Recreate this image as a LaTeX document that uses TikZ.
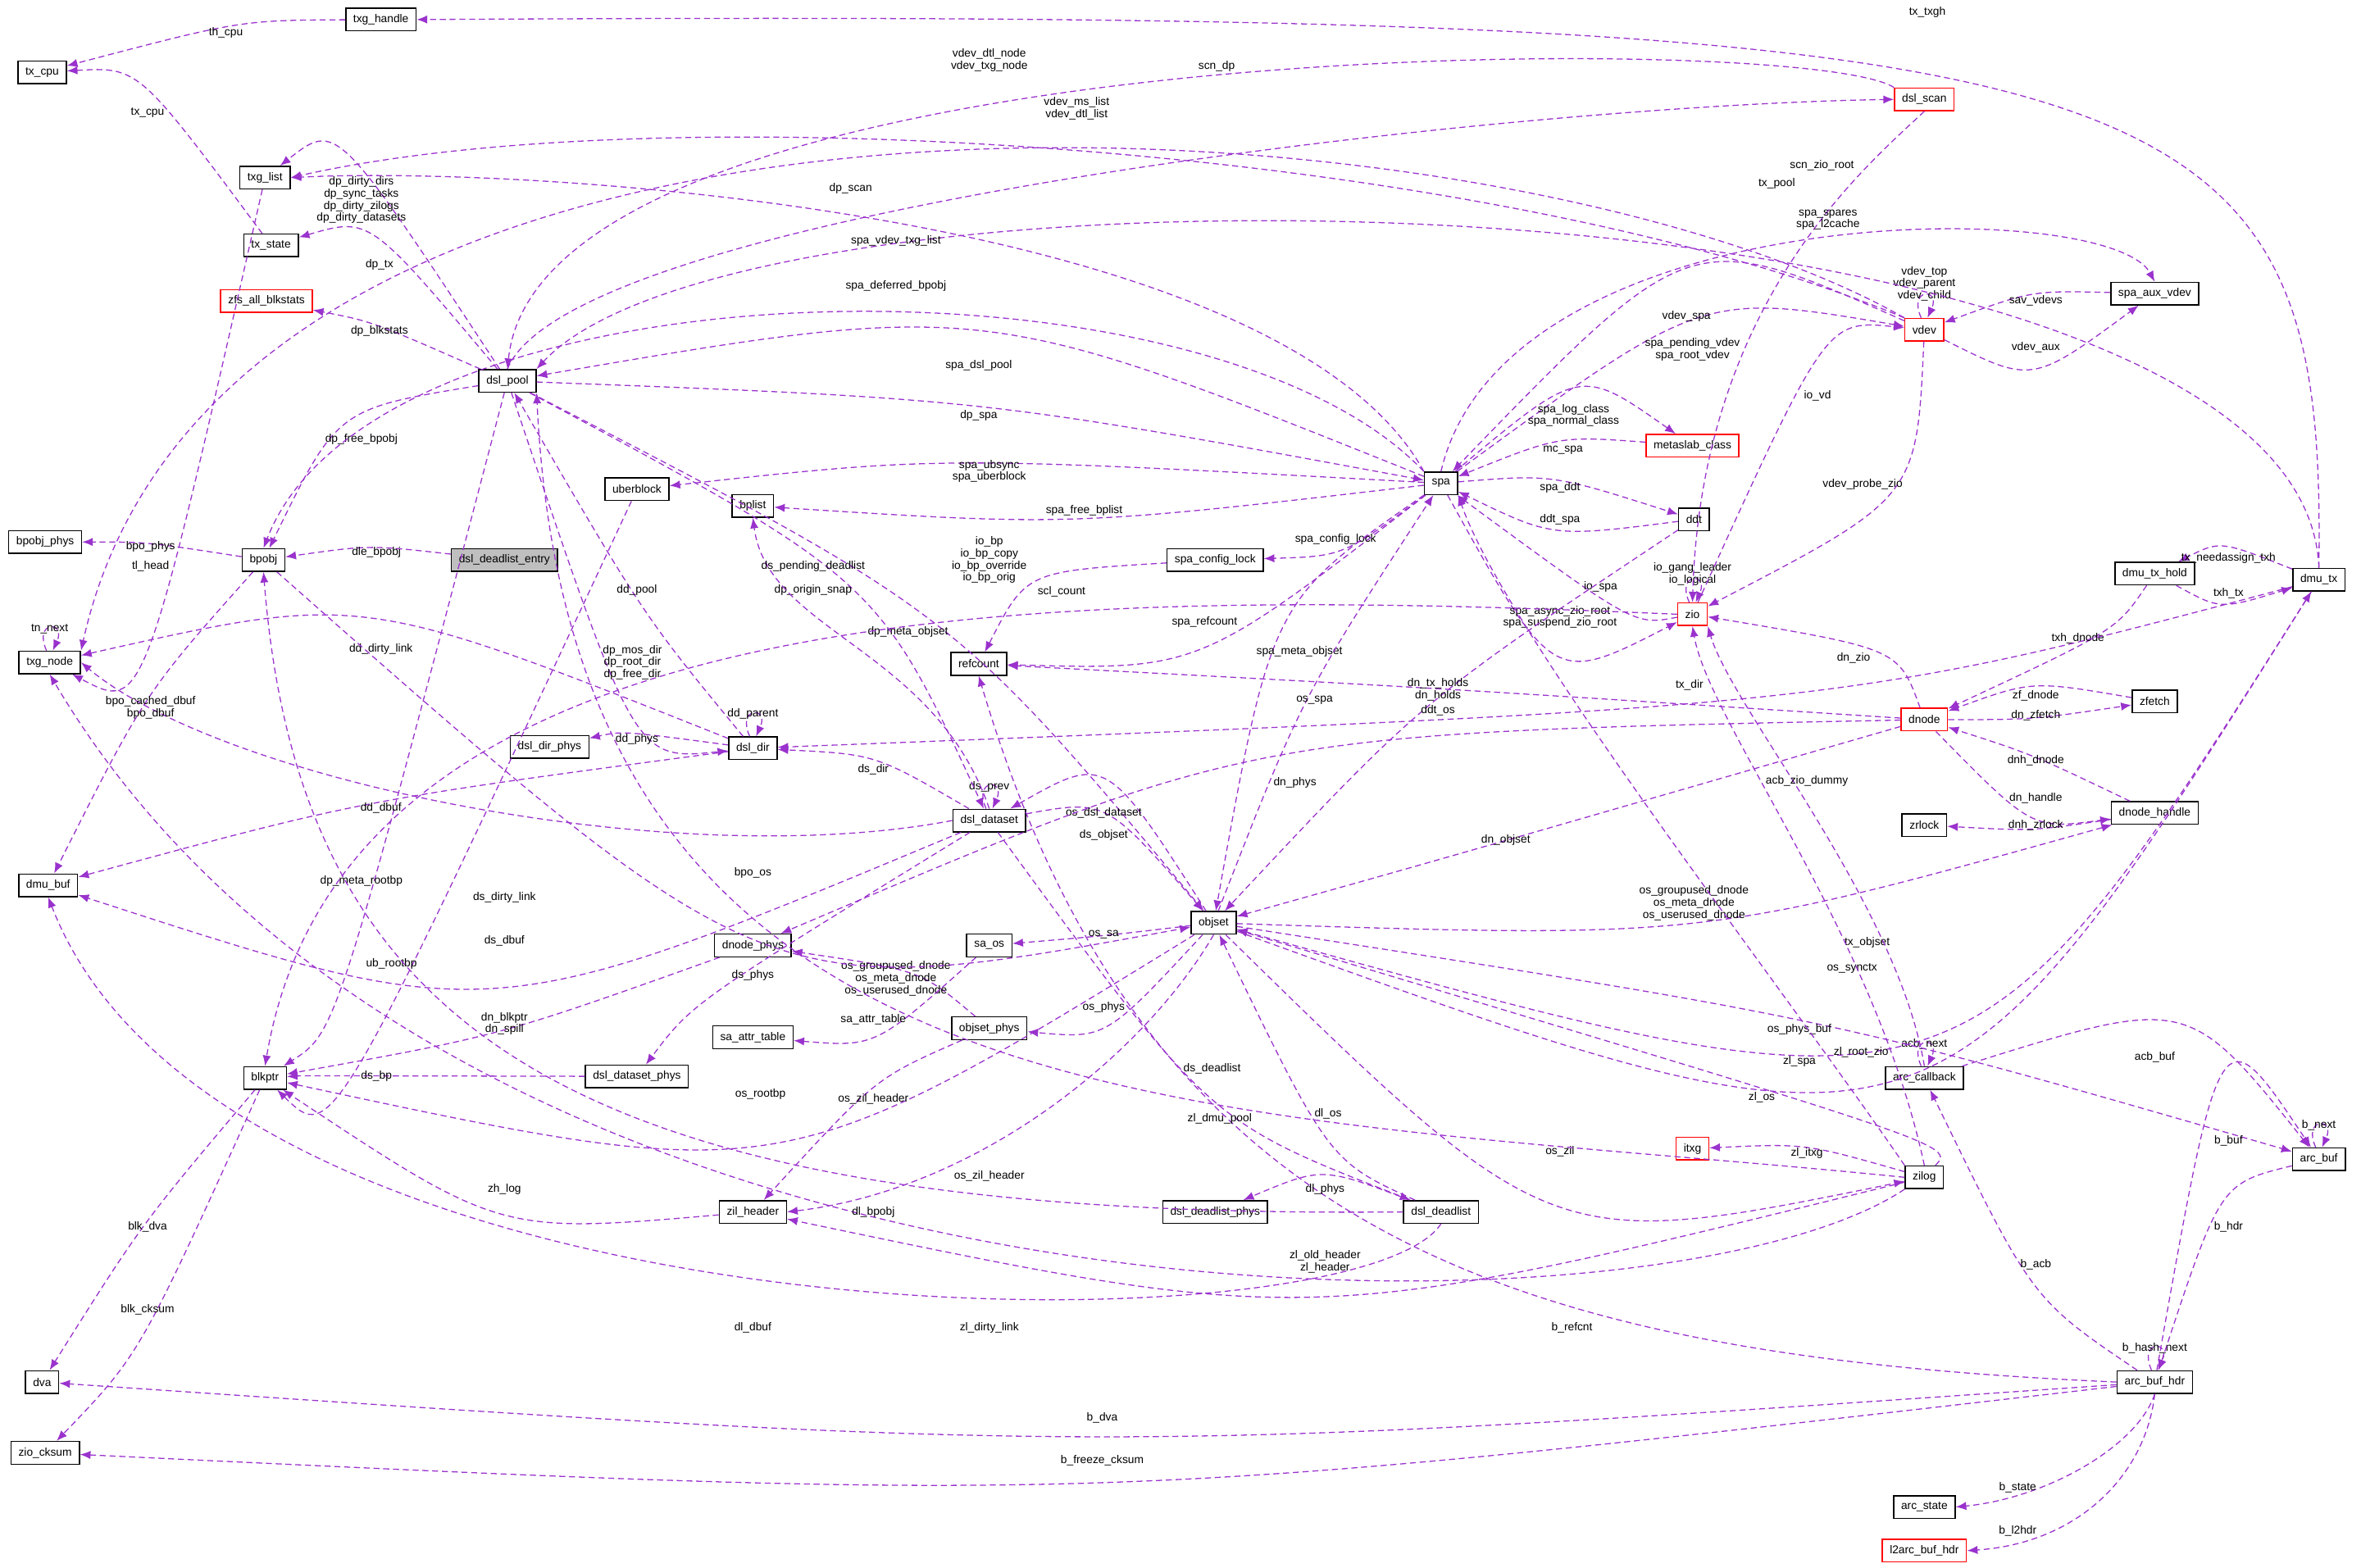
\documentclass[tikz,border=0pt]{standalone}
\usepackage{fontspec}
\setmainfont{Liberation Sans}
\usetikzlibrary{arrows.meta,positioning,calc}

\definecolor{lnkcol}{HTML}{9A32CD}
\tikzset{
  cls/.style={draw, line width=0.8pt, fill=white, inner xsep=5pt, inner ysep=2pt, minimum height=15pt, font=\fontsize{7.5}{8}\selectfont},
  redcls/.style={cls, draw=red},
  rootcls/.style={cls, fill=black!25},
  lnkline/.style={draw=lnkcol, line width=0.7pt, dashed, dash pattern=on 4pt off 2.5pt, -{Latex[length=7pt,width=5.5pt]}},
  lbl/.style={font=\fontsize{7.5}{8}\selectfont, align=center, inner sep=0pt}
}
% edge from #1 to #2 passing through label position #3
\newcommand{\lnk}[4]{%
  \coordinate (L) at (#3);
  \draw[lnkline] (#1) .. controls ($2*(L)-0.5*(#1)-0.5*(#2)$) .. (#2);
  \node[lbl] at (L) {#4};}
% edge from #1 to #2 with two control points, label at #5
\newcommand{\lnkc}[6]{%
  \draw[lnkline] (#1) .. controls (#3) and (#4) .. (#2);
  \node[lbl] at (#5) {#6};}
% self loop on top of node #1
\newcommand{\selflnk}[2]{%
  \draw[lnkline] (#1.105) .. controls +(-9,-20) and +(9,-20) .. (#1.75);
  \node[lbl, above=11pt of #1.north, anchor=south] {#2};}

\begin{document}
\begin{tikzpicture}[x=1pt, y=-1pt]
 \useasboundingbox (0,0) rectangle (1568,1041);

 % left column
 \node[cls] (txg_handle) at (253,13) {txg\_handle};
 \node[cls] (tx_cpu) at (28,48) {tx\_cpu};
 \node[cls] (txg_list) at (176,118) {txg\_list};
 \node[cls] (tx_state) at (180,163) {tx\_state};
 \node[redcls] (zfs_all_blkstats) at (177,200) {zfs\_all\_blkstats};
 \node[cls] (bpobj_phys) at (30,360) {bpobj\_phys};
 \node[cls] (bpobj) at (175,372) {bpobj};
 \node[cls] (txg_node) at (33,440) {txg\_node};
 \node[cls] (dmu_buf) at (32,588) {dmu\_buf};
 \node[cls] (blkptr) at (176,716) {blkptr};
 \node[cls] (dva) at (28,918) {dva};
 \node[cls] (zio_cksum) at (30,965) {zio\_cksum};

 % second column
 \node[cls] (dsl_pool) at (337,253) {dsl\_pool};
 \node[rootcls] (dle) at (335,372) {dsl\_deadlist\_entry};
 \node[cls] (uberblock) at (423,325) {uberblock};
 \node[cls] (dsl_dir_phys) at (365,496) {dsl\_dir\_phys};
 \node[cls] (dsl_dataset_phys) at (423,715) {dsl\_dataset\_phys};
 \node[cls] (bplist) at (500,336) {bplist};
 \node[cls] (dsl_dir) at (500,497) {dsl\_dir};
 \node[cls] (dnode_phys) at (500,628) {dnode\_phys};
 \node[cls] (sa_attr_table) at (500,689) {sa\_attr\_table};
 \node[cls] (zil_header) at (500,805) {zil\_header};

 % middle column
 \node[cls] (refcount) at (650,441) {refcount};
 \node[cls] (dsl_dataset) at (657,545) {dsl\_dataset};
 \node[cls] (sa_os) at (657,628) {sa\_os};
 \node[cls] (objset_phys) at (657,683) {objset\_phys};
 \node[cls] (spa_config_lock) at (807,372) {spa\_config\_lock};
 \node[cls] (objset) at (806,613) {objset};
 \node[cls] (dsl_deadlist_phys) at (807,805) {dsl\_deadlist\_phys};
 \node[cls] (spa) at (957,321) {spa};
 \node[cls] (dsl_deadlist) at (957,805) {dsl\_deadlist};

 % right part
 \node[redcls] (metaslab_class) at (1124,296) {metaslab\_class};
 \node[cls] (ddt) at (1125,345) {ddt};
 \node[redcls] (zio) at (1124,408) {zio};
 \node[redcls] (itxg) at (1124,763) {itxg};
 \node[redcls] (dsl_scan) at (1278,66) {dsl\_scan};
 \node[redcls] (vdev) at (1278,219) {vdev};
 \node[redcls] (dnode) at (1278,478) {dnode};
 \node[cls] (zrlock) at (1278,548) {zrlock};
 \node[cls] (arc_callback) at (1278,716) {arc\_callback};
 \node[cls] (zilog) at (1278,782) {zilog};
 \node[cls] (arc_state) at (1278,1001) {arc\_state};
 \node[redcls] (l2arc_buf_hdr) at (1278,1030) {l2arc\_buf\_hdr};
 \node[cls] (spa_aux_vdev) at (1431,195) {spa\_aux\_vdev};
 \node[cls] (dmu_tx_hold) at (1431,381) {dmu\_tx\_hold};
 \node[cls] (zfetch) at (1431,466) {zfetch};
 \node[cls] (dnode_handle) at (1431,540) {dnode\_handle};
 \node[cls] (arc_buf_hdr) at (1431,918) {arc\_buf\_hdr};
 \node[cls] (dmu_tx) at (1540,385) {dmu\_tx};
 \node[cls] (arc_buf) at (1540,770) {arc\_buf};

 % self references
 \selflnk{txg_node}{tn\_next}
 \selflnk{dsl_dir}{dd\_parent}
 \selflnk{dsl_dataset}{ds\_prev}
 \selflnk{vdev}{vdev\_top\\vdev\_parent\\vdev\_child}
 \selflnk{zio}{io\_gang\_leader\\io\_logical}
 \selflnk{arc_callback}{acb\_next}
 \selflnk{arc_buf}{b\_next}
 \selflnk{arc_buf_hdr}{b\_hash\_next}

 % txg and tx links
 \lnk{txg_handle}{tx_cpu}{150,22}{th\_cpu}
 \lnk{tx_state}{tx_cpu}{98,75}{tx\_cpu}
 \lnkc{dmu_tx.north}{txg_handle.east}{1545,40}{1450,6}{1280,8}{tx\_txgh}
 \lnk{txg_list}{txg_node}{100,376}{tl\_head}

 % dsl_pool links
 \lnk{dsl_pool}{txg_list}{240,133}{dp\_dirty\_dirs\\dp\_sync\_tasks\\dp\_dirty\_zilogs\\dp\_dirty\_datasets}
 \lnk{dsl_pool}{tx_state}{252,176}{dp\_tx}
 \lnk{dsl_pool}{zfs_all_blkstats}{252,220}{dp\_blkstats}
 \lnk{dsl_pool}{bpobj}{240,292}{dp\_free\_bpobj}
 \lnk{dsl_pool}{spa}{650,276}{dp\_spa}
 \lnk{dsl_pool}{dsl_dir}{420,440}{dp\_mos\_dir\\dp\_root\_dir\\dp\_free\_dir}
 \lnk{dsl_pool}{objset}{603,420}{dp\_meta\_objset}
 \lnk{dsl_pool}{dsl_dataset}{540,392}{dp\_origin\_snap}
 \lnk{dsl_pool}{blkptr}{240,585}{dp\_meta\_rootbp}
 \lnkc{dsl_pool.north}{dsl_scan.west}{380,140}{1000,70}{565,125}{dp\_scan}
 \lnkc{dsl_scan.north west}{dsl_pool.north}{1200,20}{360,20}{808,44}{scn\_dp}
 \lnkc{dmu_tx.north}{dsl_pool.north east}{1530,110}{500,90}{1180,122}{tx\_pool}
 \lnkc{dsl_scan.south}{zio.north}{1240,110}{1130,200}{1210,110}{scn\_zio\_root}

 % spa links
 \lnkc{spa.north west}{txg_list.east}{850,140}{350,110}{595,160}{spa\_vdev\_txg\_list}
 \lnkc{spa.north west}{bpobj.north}{800,160}{250,170}{595,190}{spa\_deferred\_bpobj}
 \lnk{spa}{dsl_pool}{650,243}{spa\_dsl\_pool}
 \lnk{spa}{uberblock}{657,313}{spa\_ubsync\\spa\_uberblock}
 \lnk{spa}{bplist}{720,339}{spa\_free\_bplist}
 \lnk{spa}{spa_config_lock}{887,358}{spa\_config\_lock}
 \lnk{spa}{refcount}{800,413}{spa\_refcount}
 \lnk{spa}{objset}{863,433}{spa\_meta\_objset}
 \lnk{spa}{ddt}{1036,324}{spa\_ddt}
 \lnk{ddt}{spa}{1036,345}{ddt\_spa}
 \lnk{spa}{vdev}{1124,232}{spa\_pending\_vdev\\spa\_root\_vdev}
 \lnk{vdev}{spa}{1120,210}{vdev\_spa}
 \lnkc{spa.north}{spa_aux_vdev.north}{1000,130}{1400,130}{1214,146}{spa\_spares\\spa\_l2cache}
 \lnk{spa}{metaslab_class}{1045,276}{spa\_log\_class\\spa\_normal\_class}
 \lnk{metaslab_class}{spa}{1038,299}{mc\_spa}
 \lnk{spa}{zio}{1036,410}{spa\_async\_zio\_root\\spa\_suspend\_zio\_root}
 \lnk{zio}{spa}{1063,390}{io\_spa}
 \lnk{spa_config_lock}{refcount}{705,393}{scl\_count}

 % vdev and zio links
 \lnkc{vdev.north west}{txg_node.north east}{1000,60}{150,0}{657,40}{vdev\_dtl\_node\\vdev\_txg\_node}
 \lnkc{vdev.north west}{txg_list.east}{1000,100}{450,60}{715,72}{vdev\_ms\_list\\vdev\_dtl\_list}
 \lnk{spa_aux_vdev}{vdev}{1352,200}{sav\_vdevs}
 \lnk{vdev}{spa_aux_vdev}{1352,231}{vdev\_aux}
 \lnk{vdev}{zio}{1237,322}{vdev\_probe\_zio}
 \lnk{zio}{vdev}{1207,263}{io\_vd}
 \lnkc{zio.west}{blkptr.north}{700,390}{230,390}{657,372}{io\_bp\\io\_bp\_copy\\io\_bp\_override\\io\_bp\_orig}

 % dsl_dir and dsl_dataset links
 \lnk{dsl_dir}{dsl_pool}{423,392}{dd\_pool}
 \lnk{dsl_dir}{txg_node}{253,431}{dd\_dirty\_link}
 \lnk{dsl_dir}{dsl_dir_phys}{423,491}{dd\_phys}
 \lnk{dsl_dir}{dmu_buf}{253,537}{dd\_dbuf}
 \lnk{dsl_dataset}{dsl_dir}{580,511}{ds\_dir}
 \lnkc{dsl_dataset.north}{bplist.south}{620,430}{510,420}{540,376}{ds\_pending\_deadlist}
 \lnkc{dsl_dataset.west}{txg_node.east}{450,580}{150,520}{335,596}{ds\_dirty\_link}
 \lnk{dsl_dataset}{dmu_buf}{335,625}{ds\_dbuf}
 \lnk{dsl_dataset}{objset}{733,555}{ds\_objset}
 \lnk{dsl_dataset}{dsl_dataset_phys}{500,648}{ds\_phys}
 \lnk{dsl_dataset}{dsl_deadlist}{805,710}{ds\_deadlist}

 % objset links
 \lnk{objset}{dsl_dataset}{733,540}{os\_dsl\_dataset}
 \lnk{objset_phys}{dnode_phys}{595,650}{os\_groupused\_dnode\\os\_meta\_dnode\\os\_userused\_dnode}
 \lnk{objset}{dnode_handle}{1125,600}{os\_groupused\_dnode\\os\_meta\_dnode\\os\_userused\_dnode}
 \lnk{objset}{spa}{873,465}{os\_spa}
 \lnk{bpobj}{objset}{500,580}{bpo\_os}
 \lnk{objset}{sa_os}{733,621}{os\_sa}
 \lnk{sa_os}{sa_attr_table}{580,677}{sa\_attr\_table}
 \lnk{objset}{objset_phys}{733,669}{os\_phys}
 \lnk{objset}{blkptr}{505,727}{os\_rootbp}
 \lnk{objset_phys}{zil_header}{580,730}{os\_zil\_header}
 \lnkc{objset.south}{zil_header.east}{760,700}{650,790}{657,781}{os\_zil\_header}
 \lnk{objset}{zilog}{1036,765}{os\_zil}
 \lnk{objset}{arc_buf}{1195,684}{os\_phys\_buf}
 \lnk{objset}{dmu_tx}{1230,643}{os\_synctx}
 \lnk{dmu_tx}{objset}{1240,626}{tx\_objset}

 % dnode links
 \lnk{dnode}{objset}{1000,558}{dn\_objset}
 \lnk{dnode}{dnode_phys}{860,520}{dn\_phys}
 \lnk{ddt}{objset}{955,472}{ddt\_os}
 \lnk{dnode}{refcount}{955,458}{dn\_tx\_holds\\dn\_holds}
 \lnk{dnode}{zio}{1231,437}{dn\_zio}
 \lnk{dnode}{zfetch}{1352,475}{dn\_zfetch}
 \lnk{zfetch}{dnode}{1352,462}{zf\_dnode}
 \lnk{dnode_handle}{dnode}{1352,505}{dnh\_dnode}
 \lnk{dnode}{dnode_handle}{1352,530}{dn\_handle}
 \lnk{dnode_handle}{zrlock}{1352,548}{dnh\_zrlock}
 \lnk{dmu_tx_hold}{dnode}{1380,424}{txh\_dnode}
 \lnk{dmu_tx_hold}{dmu_tx}{1480,394}{txh\_tx}
 \lnk{dmu_tx}{dmu_tx_hold}{1480,371}{tx\_needassign\_txh}
 \lnk{dmu_tx}{dsl_dir}{1122,455}{tx\_dir}

 % arc links
 \lnkc{arc_callback.north}{zio.south east}{1260,600}{1150,470}{1200,519}{acb\_zio\_dummy}
 \lnk{arc_callback}{arc_buf}{1431,702}{acb\_buf}
 \lnk{arc_buf}{arc_buf_hdr}{1480,815}{b\_hdr}
 \lnk{arc_buf_hdr}{arc_buf}{1480,758}{b\_buf}
 \lnk{arc_buf_hdr}{arc_callback}{1352,840}{b\_acb}
 \lnkc{arc_buf_hdr.west}{refcount.south}{1000,900}{760,820}{1044,882}{b\_refcnt}
 \lnk{arc_buf_hdr}{dva}{732,942}{b\_dva}
 \lnk{arc_buf_hdr}{zio_cksum}{732,970}{b\_freeze\_cksum}
 \lnkc{arc_buf_hdr.south}{arc_state.east}{1420,960}{1360,995}{1340,988}{b\_state}
 \lnkc{arc_buf_hdr.south}{l2arc_buf_hdr.east}{1425,980}{1380,1025}{1340,1017}{b\_l2hdr}

 % blkptr and zilog links
 \lnk{blkptr}{dva}{98,815}{blk\_dva}
 \lnk{blkptr}{zio_cksum}{98,870}{blk\_cksum}
 \lnkc{zilog.north west}{spa.south east}{1180,650}{1000,420}{1195,705}{zl\_spa}
 \lnkc{zilog.north}{zio.south}{1245,620}{1135,480}{1236,699}{zl\_root\_zio}
 \lnk{zilog}{itxg}{1200,766}{zl\_itxg}
 \lnk{zilog}{objset}{1170,729}{zl\_os}
 \lnkc{zilog.west}{dsl_pool.south east}{800,735}{380,760}{810,743}{zl\_dmu\_pool}
 \lnkc{zilog.south west}{txg_node.south}{1100,900}{300,900}{657,882}{zl\_dirty\_link}
 \lnk{zilog}{zil_header}{880,838}{zl\_old\_header\\zl\_header}
 \lnk{zil_header}{blkptr}{335,790}{zh\_log}
 \lnk{dsl_dataset_phys}{blkptr}{250,715}{ds\_bp}
 \lnk{dnode_phys}{blkptr}{335,680}{dn\_blkptr\\dn\_spill}
 \lnk{uberblock}{blkptr}{260,640}{ub\_rootbp}

 % deadlist and bpobj links
 \lnk{dsl_deadlist}{objset}{882,740}{dl\_os}
 \lnk{dsl_deadlist}{dsl_deadlist_phys}{880,790}{dl\_phys}
 \lnkc{dsl_deadlist.west}{bpobj.south}{400,810}{200,700}{580,805}{dl\_bpobj}
 \lnkc{dsl_deadlist.south}{dmu_buf.south}{900,900}{150,900}{500,882}{dl\_dbuf}
 \lnk{bpobj}{bpobj_phys}{100,363}{bpo\_phys}
 \lnk{bpobj}{dmu_buf}{100,470}{bpo\_cached\_dbuf\\bpo\_dbuf}
 \lnk{dle}{bpobj}{250,367}{dle\_bpobj}
\end{tikzpicture}
\end{document}
